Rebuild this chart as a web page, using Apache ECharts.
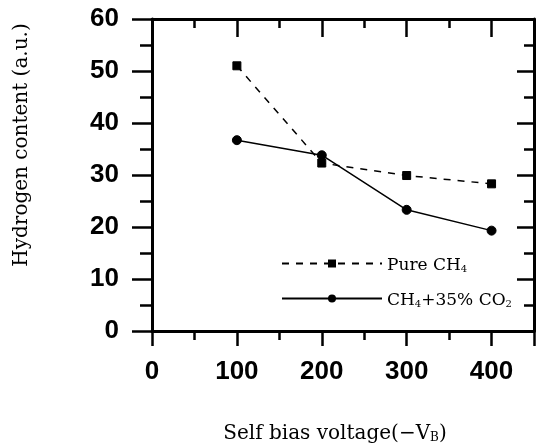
<!DOCTYPE html>
<html>
<head>
<meta charset="utf-8">
<script src="https://cdn.jsdelivr.net/npm/echarts@6/dist/echarts.min.js"></script>
<style>
html,body{margin:0;padding:0;background:#fff;}
#c{width:537px;height:447px;}
</style>
</head>
<body>
<div id="c"></div>
<script>
// ---- data ----
const biasVoltage = [100, 200, 300, 400];
const pureCH4 = [51.0, 32.3, 29.9, 28.3];
const ch4CO2 = [36.7, 33.8, 23.3, 19.3];
const xTicks = [0, 100, 200, 300, 400];
const yTicks = [0, 10, 20, 30, 40, 50, 60];
const seriesNames = ['Pure CH4', 'CH4+35% CO2'];
const yTitle = 'Hydrogen content (a.u.)';
const xTitle = ['Self bias voltage(−V', 'B', ')'];

const serif = 'DejaVu Serif';
const sans = 'Liberation Sans';

const chart = echarts.init(document.getElementById('c'), null, {renderer: 'canvas'});

const tickLabel = {fontFamily: sans, fontWeight: 'bold', fontSize: 26, color: '#000'};
const axisLine = {show: true, onZero: false, lineStyle: {color: '#000', width: 3}};

const legendRich = {
  a: {fontFamily: serif, fontSize: 17, color: '#000', lineHeight: 21, verticalAlign: 'bottom'},
  s: {fontFamily: serif, fontSize: 10, color: '#000', lineHeight: 13, verticalAlign: 'bottom'}
};

function legendFmt(name) {
  if (name === seriesNames[0]) return '{a|Pure CH}{s|4}';
  return '{a|CH}{s|4}{a|+35% CO}{s|2}';
}

const option = {
  animation: false,
  backgroundColor: '#fff',
  grid: {left: 152, right: 2, top: 19, bottom: 116, containLabel: false},
  xAxis: [
    {
      type: 'value', position: 'bottom', min: 0, max: 450, interval: 100,
      axisLine: axisLine,
      axisTick: {show: true, inside: false, length: 15, lineStyle: {color: '#000', width: 2.5}},
      minorTick: {show: true, splitNumber: 2, length: 9, lineStyle: {color: '#000', width: 2.5}},
      axisLabel: {show: true, margin: 28, ...tickLabel,
        formatter: v => (xTicks.indexOf(v) >= 0 ? String(v) : '')},
      splitLine: {show: false}
    },
    {
      type: 'value', position: 'top', min: 0, max: 450, interval: 100,
      axisLine: axisLine,
      axisTick: {show: true, inside: true, length: 18, lineStyle: {color: '#000', width: 2.5}},
      minorTick: {show: true, splitNumber: 2, length: 9, lineStyle: {color: '#000', width: 2.5}},
      axisLabel: {show: false},
      splitLine: {show: false}
    }
  ],
  yAxis: [
    {
      type: 'value', position: 'left', min: 0, max: 60, interval: 10,
      axisLine: axisLine,
      axisTick: {show: true, inside: false, length: 20, lineStyle: {color: '#000', width: 2.5}},
      minorTick: {show: true, splitNumber: 2, length: 12, lineStyle: {color: '#000', width: 2.5}},
      axisLabel: {show: true, margin: 33, ...tickLabel,
        formatter: v => (yTicks.indexOf(v) >= 0 ? String(v) : '')},
      splitLine: {show: false}
    },
    {
      type: 'value', position: 'right', min: 0, max: 60, interval: 10,
      axisLine: axisLine,
      axisTick: {show: true, inside: true, length: 17, lineStyle: {color: '#000', width: 2.5}},
      minorTick: {show: true, splitNumber: 2, length: 10, lineStyle: {color: '#000', width: 2.5}},
      axisLabel: {show: false},
      splitLine: {show: false}
    }
  ],
  legend: {
    orient: 'vertical',
    left: 276, top: 252,
    itemWidth: 100, itemHeight: 10, itemGap: 18,
    formatter: legendFmt,
    textStyle: {rich: legendRich, color: '#000'},
    data: seriesNames
  },
  series: [
    {
      name: seriesNames[0], type: 'line', xAxisIndex: 0, yAxisIndex: 0,
      data: biasVoltage.map((x, i) => [x, pureCH4[i]]),
      symbol: 'rect', symbolSize: 8,
      lineStyle: {color: '#000', width: 1.5, type: [7, 7]},
      itemStyle: {color: '#000', borderColor: '#000'}
    },
    {
      name: seriesNames[1], type: 'line', xAxisIndex: 0, yAxisIndex: 0,
      data: biasVoltage.map((x, i) => [x, ch4CO2[i]]),
      symbol: 'circle', symbolSize: 9,
      lineStyle: {color: '#000', width: 1.5, type: 'solid'},
      itemStyle: {color: '#000', borderColor: '#000'}
    }
  ],
  graphic: [
    {
      type: 'text', x: 22, y: 145, rotation: Math.PI / 2,
      style: {text: yTitle, font: '20px "DejaVu Serif"', fill: '#000', align: 'center', verticalAlign: 'middle'}
    },
    {
      type: 'text', x: 335, y: 432,
      style: {
        text: '{a|' + xTitle[0] + '}{b|' + xTitle[1] + '}{a|' + xTitle[2] + '}',
        align: 'center', verticalAlign: 'middle',
        rich: {
          a: {fontFamily: serif, fontSize: 20, fill: '#000', lineHeight: 24, verticalAlign: 'bottom'},
          b: {fontFamily: serif, fontSize: 12, fill: '#000', lineHeight: 16, verticalAlign: 'bottom'}
        }
      }
    }
  ]
};

chart.setOption(option);
</script>
</body>
</html>
